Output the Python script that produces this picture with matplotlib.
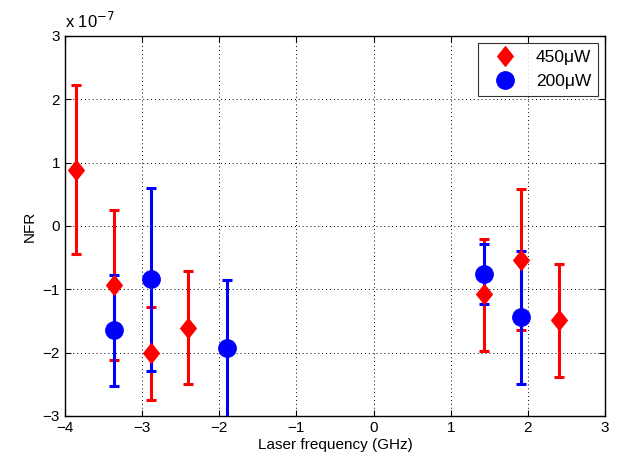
import matplotlib
matplotlib.use("Agg")
import matplotlib.pyplot as plt
import numpy as np
from matplotlib.path import Path

plt.rcParams['font.family'] = ['Liberation Sans', 'DejaVu Sans']

# NFR values in units of 1e-7
x_450 = [-3.86, -3.37, -2.88, -2.40, 1.43, 1.91, 2.40]
y_450 = [0.89, -0.93, -2.01, -1.61, -1.08, -0.53, -1.49]
top_450 = [2.22, 0.25, -1.28, -0.71, -0.20, 0.58, -0.60]
bot_450 = [-0.44, -2.12, -2.75, -2.50, -1.97, -1.65, -2.39]

x_200 = [-3.37, -2.88, -1.90, 1.43, 1.91]
y_200 = [-1.65, -0.84, -1.93, -0.76, -1.44]
top_200 = [-0.77, 0.60, -0.86, -0.28, -0.39]
bot_200 = [-2.53, -2.29, -3.05, -1.23, -2.49]

diamond = Path([(0, 1), (0.8, 0), (0, -1), (-0.8, 0), (0, 1)],
               [Path.MOVETO, Path.LINETO, Path.LINETO, Path.LINETO, Path.CLOSEPOLY])

fig = plt.figure(figsize=(6.18, 4.62), dpi=100)
ax = fig.add_axes([0.105, 0.0996, 0.874, 0.8225])

def series(x, y, top, bot, color, marker, ms, label):
    y = np.array(y)
    err = [y - np.array(bot), np.array(top) - y]
    ax.errorbar(x, y, yerr=err, fmt='none', ecolor=color, elinewidth=2.2,
                capsize=3.5, capthick=2.2, zorder=3)
    ax.plot(x, y, linestyle='none', marker=marker, markersize=ms,
            color=color, markeredgecolor=color, label=label, zorder=4)

series(x_450, y_450, top_450, bot_450, 'red', diamond, 14, '450μW')
series(x_200, y_200, top_200, bot_200, 'blue', 'o', 12.5, '200μW')

ax.set_xlim(-4, 3)
ax.set_ylim(-3, 3)
ax.set_xticks(range(-4, 4))
ax.set_yticks(range(-3, 4))
ax.grid(True, linestyle=(0, (1, 3)), color='black', linewidth=0.7)
ax.tick_params(direction='in', top=True, right=True, labelsize=11, length=4)
for s in ax.spines.values():
    s.set_linewidth(1.0)

ax.set_xlabel('Laser frequency (GHz)', fontsize=11, labelpad=2)
ax.set_ylabel('NFR', fontsize=11, labelpad=4)
ax.text(0.0, 1.012, 'x 10$^{-7}$', transform=ax.transAxes, fontsize=12,
        va='bottom', ha='left')

leg = ax.legend(loc='upper right', fontsize=12.5, frameon=True, fancybox=False,
                edgecolor='black', borderaxespad=0.4, borderpad=0.4,
                handletextpad=0.6, labelspacing=0.5, handlelength=2.3)
leg.get_frame().set_linewidth(0.8)

fig.savefig('out.png', dpi=100)
